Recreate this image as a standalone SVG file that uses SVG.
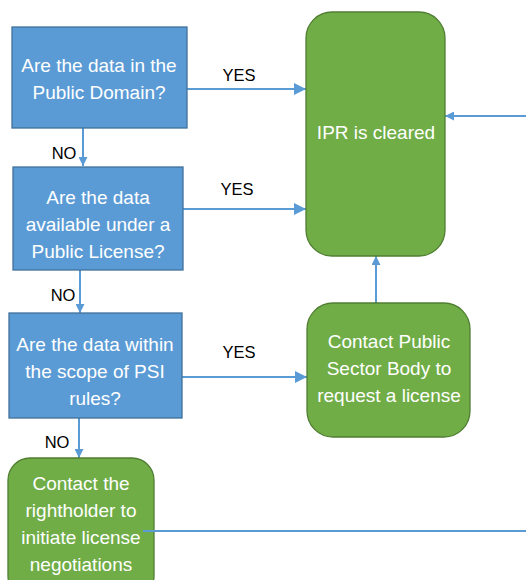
<svg xmlns="http://www.w3.org/2000/svg" width="526" height="580" viewBox="0 0 526 580">
<style>
.q{fill:#5B9BD5;stroke:#41719C;stroke-width:1.3}
.g{fill:#70AD47;stroke:#507E32;stroke-width:1.3}
.t{font-family:"Liberation Sans",Arial,sans-serif;font-size:19px;fill:#fff;text-anchor:middle}
.l{font-family:"Liberation Sans",Arial,sans-serif;font-size:16.5px;fill:#000;text-anchor:middle}
.c{stroke:#5B9BD5;stroke-width:2;fill:none}
</style>
<defs>
<marker id="ah" viewBox="0 0 10 10" refX="10" refY="5" markerWidth="7" markerHeight="6" markerUnits="strokeWidth" orient="auto">
<path d="M0,0L10,5L0,10z" fill="#5B9BD5"/>
</marker>
<marker id="as" viewBox="0 0 10 10" refX="10" refY="5" markerWidth="4.5" markerHeight="4.5" markerUnits="strokeWidth" orient="auto">
<path d="M0,0L10,5L0,10z" fill="#5B9BD5"/>
</marker>
</defs>
<g id="connectors">
<path class="c" d="M187,89H306" marker-end="url(#ah)"/>
<path class="c" d="M183,209H306" marker-end="url(#ah)"/>
<path class="c" d="M182,377H307" marker-end="url(#ah)"/>
<path class="c" d="M83,128V166" marker-end="url(#as)"/>
<path class="c" d="M80,270V313" marker-end="url(#as)"/>
<path class="c" d="M79,418V458" marker-end="url(#as)"/>
<path class="c" d="M376,303V256" marker-end="url(#as)"/>
<path class="c" d="M526,116H445" marker-end="url(#as)"/>
<text class="l" x="239" y="81">YES</text>
<text class="l" x="237" y="195">YES</text>
<text class="l" x="239" y="358">YES</text>
<text class="l" x="64" y="159">NO</text>
<text class="l" x="63" y="301">NO</text>
<text class="l" x="57" y="448">NO</text>
</g>
<g id="q1">
<rect class="q" x="12" y="27" width="175" height="101"/>
<text class="t" x="99" y="72">Are the data in the</text>
<text class="t" x="99" y="99">Public Domain?</text>
</g>
<g id="q2">
<rect class="q" x="13" y="167" width="170" height="103"/>
<text class="t" x="98" y="204">Are the data</text>
<text class="t" x="98" y="231">available under a</text>
<text class="t" x="98" y="258">Public License?</text>
</g>
<g id="q3">
<rect class="q" x="9" y="313" width="173" height="105"/>
<text class="t" x="95" y="351">Are the data within</text>
<text class="t" x="95" y="378">the scope of PSI</text>
<text class="t" x="95" y="405">rules?</text>
</g>
<g id="ipr">
<rect class="g" x="306" y="12" width="139" height="244" rx="26"/>
<text class="t" x="376" y="139">IPR is cleared</text>
</g>
<g id="psb">
<rect class="g" x="307" y="303" width="163" height="134" rx="26"/>
<text class="t" x="389" y="348">Contact Public</text>
<text class="t" x="389" y="375">Sector Body to</text>
<text class="t" x="389" y="402">request a license</text>
</g>
<g id="rightholder">
<rect class="g" x="8" y="458" width="146" height="140" rx="22"/>
<text class="t" x="81" y="490">Contact the</text>
<text class="t" x="81" y="517">rightholder to</text>
<text class="t" x="81" y="544">initiate license</text>
<text class="t" x="81" y="571">negotiations</text>
</g>
<g id="connectors-top">
<path class="c" d="M143,531H526"/>
</g>
</svg>
